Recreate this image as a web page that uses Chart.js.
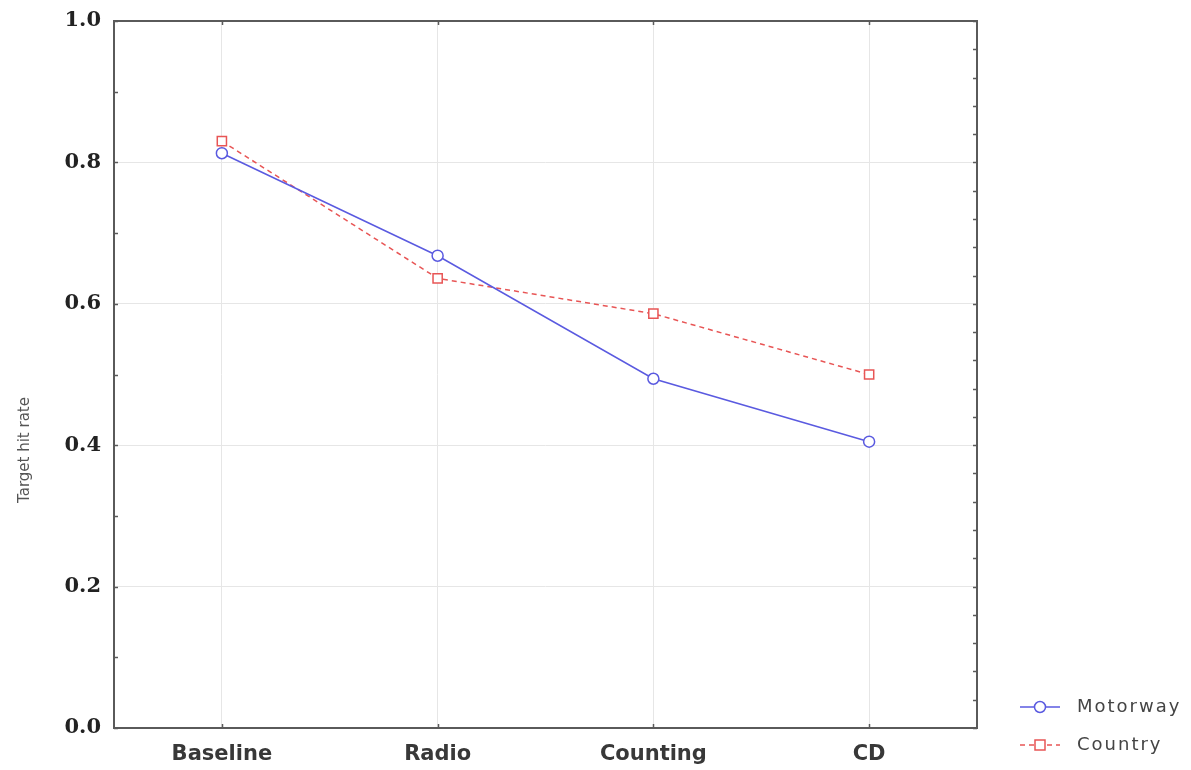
<!DOCTYPE html>
<html><head><meta charset="utf-8">
<script src="https://cdn.jsdelivr.net/npm/chart.js@4/dist/chart.umd.min.js"></script>
<style>html,body{margin:0;padding:0;background:#fff}#wrap{width:1191px;height:770px}</style>
</head><body><div id="wrap"><canvas id="c" width="1191" height="770"></canvas></div>
<script>
const categories = ["Baseline", "Radio", "Counting", "CD"];
const motorway = [0.813, 0.668, 0.494, 0.405];
const country = [0.830, 0.636, 0.586, 0.500];
const seriesNames = ["Motorway", "Country"];
const yTitle = "Target hit rate";

const boxPlugin = {
  id: 'box',
  afterDraw(chart) {
    const ctx = chart.ctx, a = chart.chartArea;
    const ys = chart.scales.y;
    ctx.save();
    ctx.strokeStyle = '#5a5a5a'; ctx.lineWidth = 2;
    ctx.strokeRect(a.left, a.top, a.right - a.left, a.bottom - a.top);
    ctx.lineWidth = 1.5;
    for (let v = 0; v <= 1.0001; v += 0.04) {
      const y = Math.round(ys.getPixelForValue(v)) + 0.5;
      ctx.beginPath(); ctx.moveTo(a.right - 4, y); ctx.lineTo(a.right, y); ctx.stroke();
    }
    for (let v = 0; v <= 1.0001; v += 0.1) {
      const y = Math.round(ys.getPixelForValue(v)) + 0.5;
      ctx.beginPath(); ctx.moveTo(a.left, y); ctx.lineTo(a.left + 4, y); ctx.stroke();
    }
    const xs = chart.scales.x;
    categories.forEach((c, i) => {
      const x = Math.round(xs.getPixelForValue(i)) + 0.5;
      ctx.beginPath(); ctx.moveTo(x, a.top); ctx.lineTo(x, a.top + 4); ctx.stroke();
      ctx.beginPath(); ctx.moveTo(x, a.bottom); ctx.lineTo(x, a.bottom - 4); ctx.stroke();
    });
    ctx.save();
    ctx.translate(25, 450); ctx.rotate(-Math.PI / 2);
    ctx.fillStyle = '#555'; ctx.font = '15px "DejaVu Sans"';
    ctx.textAlign = 'center'; ctx.textBaseline = 'middle';
    ctx.fillText(yTitle, 0, 0);
    ctx.restore();
    const lx = 1020, ly0 = 707, gap = 38;
    chart.data.datasets.forEach((ds, i) => {
      const y = ly0 + i * gap;
      ctx.strokeStyle = ds.borderColor; ctx.lineWidth = 1.5;
      ctx.setLineDash(ds.borderDash || []);
      ctx.beginPath(); ctx.moveTo(lx, y); ctx.lineTo(lx + 40, y); ctx.stroke();
      ctx.setLineDash([]);
      ctx.fillStyle = '#fff';
      if (ds.pointStyle === 'circle') {
        ctx.beginPath(); ctx.arc(lx + 20, y, 5.5, 0, Math.PI * 2); ctx.fill(); ctx.stroke();
      } else {
        ctx.fillRect(lx + 15, y - 5, 10, 10); ctx.strokeRect(lx + 15, y - 5, 10, 10);
      }
      ctx.fillStyle = '#444';
      ctx.font = '18px "DejaVu Sans"';
      ctx.letterSpacing = '2px';
      ctx.textBaseline = 'middle'; ctx.textAlign = 'left';
      ctx.fillText(ds.label, lx + 57, y);
      ctx.letterSpacing = '0px';
    });
    ctx.restore();
  }
};

new Chart(document.getElementById('c'), {
  type: 'line',
  data: {
    labels: categories,
    datasets: [
      { label: seriesNames[0], data: motorway, borderColor: '#5a5ae0', backgroundColor: '#ffffff',
        borderWidth: 1.5, pointStyle: 'circle', pointRadius: 5.5, pointBorderWidth: 1.5, tension: 0 },
      { label: seriesNames[1], data: country, borderColor: '#e85555', backgroundColor: '#ffffff',
        borderWidth: 1.5, borderDash: [5, 4], pointStyle: 'rect', pointRadius: 6.5, pointBorderWidth: 1.5, tension: 0 }
    ]
  },
  options: {
    responsive: false, animation: false,
    layout: { padding: { left: 0, top: 21, right: 214, bottom: 0 } },
    plugins: { legend: { display: false }, tooltip: { enabled: false } },
    scales: {
      x: {
        offset: true,
        grid: { color: '#e6e6e6', lineWidth: 1, drawTicks: false, offset: false },
        border: { display: false },
        ticks: { color: '#383838', font: { family: 'DejaVu Sans', size: 21, weight: 'bold' }, padding: 14 },
        afterFit: s => { s.height = 42; s.paddingLeft = 0; s.paddingRight = 0; }
      },
      y: {
        min: 0, max: 1.0,
        grid: { color: '#e6e6e6', lineWidth: 1, drawTicks: false },
        border: { display: false },
        ticks: { stepSize: 0.2, color: '#222', font: { family: 'DejaVu Serif', size: 21, weight: 'bold' }, padding: 13,
          callback: v => v.toFixed(1) },
        afterFit: s => { s.width = 114; s.paddingTop = 0; s.paddingBottom = 0; }
      }
    }
  },
  plugins: [boxPlugin]
});
</script></body></html>
